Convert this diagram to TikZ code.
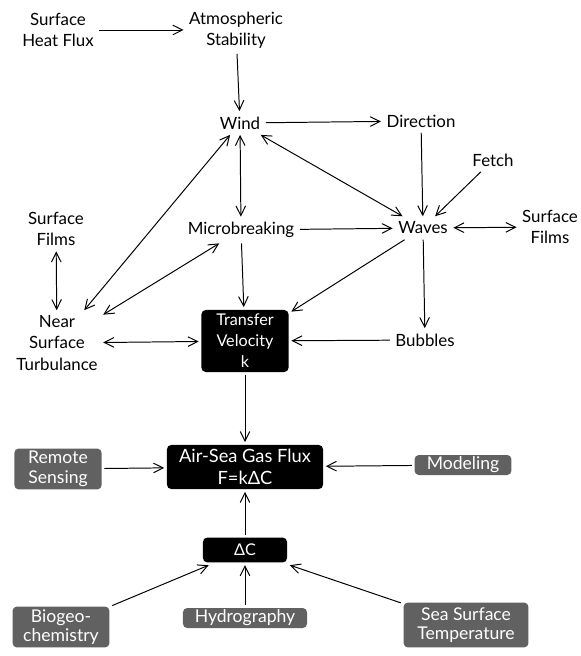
\documentclass[tikz,border=0pt]{standalone}
\usepackage{fontspec}
\setmainfont{Lato}
\usetikzlibrary{arrows.meta}

\begin{document}
\begin{tikzpicture}[x=0.025cm, y=-0.025cm,
    >={Straight Barb[length=2.4mm,width=2.4mm]},
    lbl/.style={align=center, inner sep=1pt, outer sep=3pt,
        font=\fontsize{12}{15}\selectfont},
    blackbox/.style={fill=black, text=white, rounded corners=3pt, align=center,
        inner sep=1pt, outer sep=2pt, font=\fontsize{11.5}{15}\selectfont},
    greybox/.style={fill=black!62, text=white, rounded corners=3pt, align=center,
        inner sep=1pt, outer sep=2pt, font=\fontsize{12.5}{14}\selectfont},
    conn/.style={line width=0.7pt}]
\useasboundingbox (0,0) rectangle (580,656);

%top part
	\node[lbl] (shf) at (58,30) {Surface\\Heat Flux};
	\node[lbl] (stab) at (236,30) {Atmospheric\\Stability};
	\node[lbl] (wind) at (240,123) {Wind};
	\node[lbl] (dir) at (421,121) {Direction};
	\node[lbl] (fetch) at (493,160) {Fetch};
	\node[lbl] (waves) at (423,228) {Waves};
	\node[lbl] (sfr) at (550,227) {Surface\\Films};
	\node[lbl] (micro) at (241,230) {Microbreaking};
	\node[lbl] (sfl) at (56,229) {Surface\\Films};
	\node[lbl] (nst) at (57,343) {Near\\Surface\\Turbulance};
	\node[lbl] (bub) at (425,340) {Bubbles};

%boxes
	\node[blackbox, minimum width=2.175cm, minimum height=1.55cm] (tv) at (245,341) {Transfer\\Velocity\\k};
	\node[blackbox, minimum width=3.9cm, minimum height=1.1cm, font=\fontsize{13}{16}\selectfont] (flux) at (245,467) {Air-Sea Gas Flux\\F=kΔC};
	\node[blackbox, minimum width=2.1cm, minimum height=0.62cm] (dc) at (245,550) {ΔC};
	\node[greybox, minimum width=2.18cm, minimum height=1.02cm] (rs) at (58,469) {Remote\\Sensing};
	\node[greybox, minimum width=2.42cm, minimum height=0.5cm] (mod) at (463,465) {Modeling};
	\node[greybox, minimum width=2.42cm, minimum height=1.02cm] (bio) at (61,627) {Biogeo-\\chemistry};
	\node[greybox, minimum width=3.1cm, minimum height=0.5cm] (hyd) at (245,618) {Hydrography};
	\node[greybox, minimum width=3.12cm, minimum height=1.12cm] (sst) at (466,625) {Sea Surface\\Temperature};

%arrows
	\draw[conn, ->] (shf) -- (stab);
	\draw[conn, ->] (stab) -- (wind);
	\draw[conn, ->] (wind) -- (dir);
	\draw[conn, ->] (dir) -- (waves);
	\draw[conn, ->] (fetch) -- (waves);
	\draw[conn, <->] (wind) -- (waves);
	\draw[conn, <->] (wind) -- (micro);
	\draw[conn, <->] (wind) -- (nst);
	\draw[conn, ->] (micro) -- (waves);
	\draw[conn, <->] (micro) -- (nst);
	\draw[conn, ->] (micro) -- (tv);
	\draw[conn, ->] (waves) -- (tv);
	\draw[conn, ->] (waves) -- (bub);
	\draw[conn, <->] (waves) -- (sfr);
	\draw[conn, <->] (sfl) -- (nst);
	\draw[conn, <->] (nst) -- (tv);
	\draw[conn, ->] (bub) -- (tv);
	\draw[conn, ->] (tv) -- (flux);
	\draw[conn, ->] (rs) -- (flux);
	\draw[conn, ->] (mod) -- (flux);
	\draw[conn, ->] (dc) -- (flux);
	\draw[conn, ->] (bio) -- (dc);
	\draw[conn, ->] (hyd) -- (dc);
	\draw[conn, ->] (sst) -- (dc);

\end{tikzpicture}
\end{document}
